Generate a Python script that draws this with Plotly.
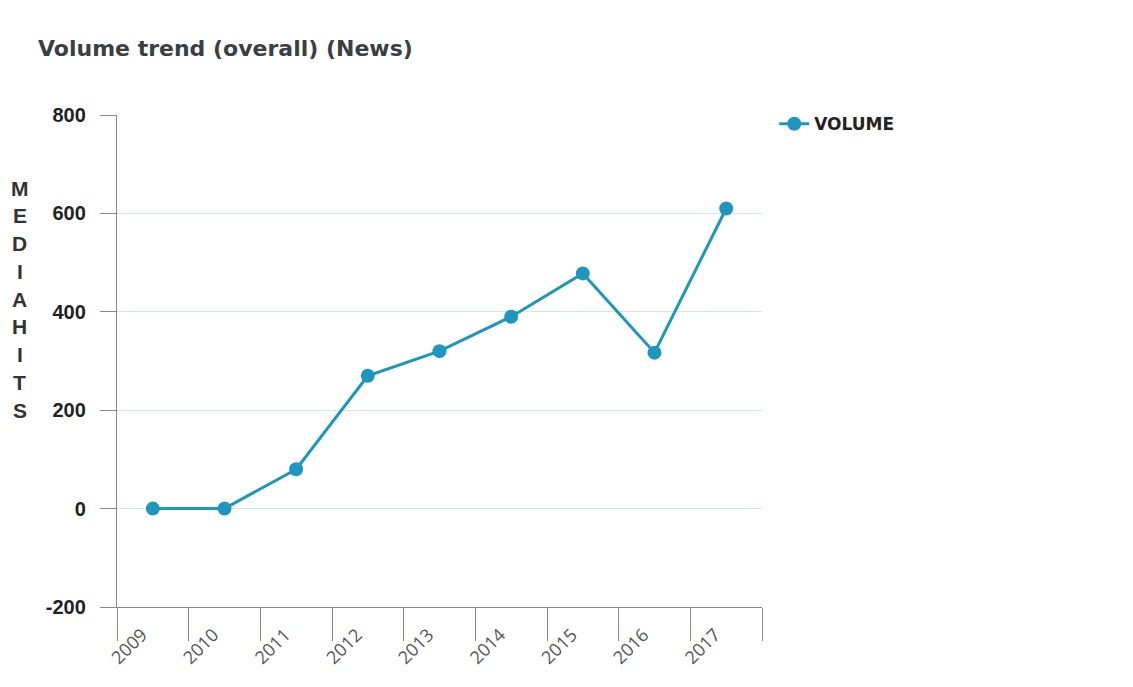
import plotly.graph_objects as go

years = ["2009", "2010", "2011", "2012", "2013", "2014", "2015", "2016", "2017"]
volume = [0, 0, 80, 270, 320, 390, 478, 317, 610]
y_ticks = [-200, 0, 200, 400, 600, 800]
y_tick_text = ["-200", "0", "200", "400", "600", "800"]
axis_letters = list("MEDIAHITS")

LINE = "#1d97bf"
W, H = 1125, 679  # page has 8px body margin
L, R, T, B = 109, 371, 107, 80

fig = go.Figure()
fig.add_trace(go.Scatter(
    x=years, y=volume, mode="lines+markers", name="<b>VOLUME</b>",
    line=dict(color=LINE, width=3),
    marker=dict(color=LINE, size=14),
))

fig.update_layout(
    width=W, height=H,
    paper_bgcolor="white", plot_bgcolor="white",
    margin=dict(l=L, r=R, t=T, b=B),
    title=dict(text="<b>Volume trend (overall) (News)</b>", x=(38 - 8) / W, xanchor="left",
               y=1 - (48 - 8) / H, yanchor="middle",
               font=dict(family="DejaVu Sans", size=22, color="#3a3f44")),
    showlegend=True,
    legend=dict(x=1.019, y=1.018, xanchor="left", yanchor="top",
                font=dict(family="DejaVu Sans", size=17, color="#222"),
                itemwidth=30),
    xaxis=dict(type="category", range=[-0.5, 8.5], tickson="boundaries",
               showline=True, linecolor="#888", linewidth=1.3,
               ticks="outside", ticklen=33, tickcolor="#888", tickwidth=1.3,
               tickangle=-45, showgrid=False,
               tickfont=dict(family="Open Sans", size=18, color="#555"),
               ticklabelshift=-11, ticklabelstandoff=9),
    yaxis=dict(range=[-200, 800], tickvals=y_ticks, ticktext=y_tick_text,
               showline=True, linecolor="#888", linewidth=1.3,
               ticks="outside", ticklen=16, tickcolor="#888", tickwidth=1.3,
               showgrid=True, gridcolor="#d6e5ec", gridwidth=1, zeroline=False,
               tickfont=dict(family="Liberation Sans", size=20, color="#222", weight="bold"),
               ticklabelstandoff=10),
)

n = len(axis_letters)
top_px, bot_px = 188 - 8, 410 - 8
for i, ch in enumerate(axis_letters):
    ypx = top_px + (bot_px - top_px) * i / (n - 1)
    fig.add_annotation(text="<b>%s</b>" % ch, xref="paper", yref="paper",
                       x=(20 - 8 - L) / (W - L - R), xanchor="center",
                       y=1 - (ypx - T) / (H - T - B), yanchor="middle",
                       showarrow=False,
                       font=dict(family="Liberation Sans Narrow, Liberation Sans", size=21, color="#333"))

fig.write_html("out.html")
